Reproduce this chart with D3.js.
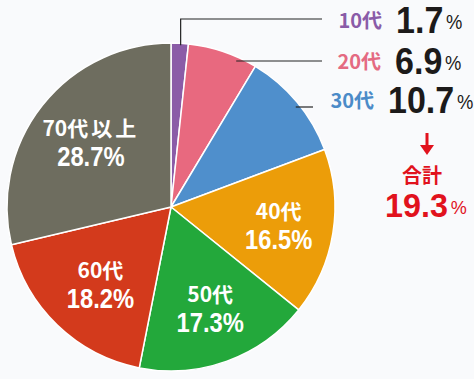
<!DOCTYPE html>
<html>
<head>
<meta charset="utf-8">
<script src="https://cdn.jsdelivr.net/npm/d3@7"></script>
<style>
  html, body { margin: 0; padding: 0; background: #f9fafc; }
  svg { display: block; }
  .num { font-family: "Liberation Sans", Arial, sans-serif; font-weight: bold; }
  .jp { font-family: "Noto Sans CJK JP", sans-serif; font-weight: bold; }
</style>
</head>
<body>
<div id="chart"></div>
<script>
const categories = ["10代", "20代", "30代", "40代", "50代", "60代", "70代以上"];
const values = [1.7, 6.9, 10.7, 16.5, 17.3, 18.2, 28.7];
const colors = ["#8b5ca7", "#e8697f", "#4f8fcc", "#ec9d09", "#23a83b", "#d33a1c", "#6e6d5f"];
const labelColors = ["#8a5ca8", "#e46a82", "#4b8bc8"];
const totalLabel = "合計";
const totalValue = 19.3;

const width = 474, height = 379;
const cx = 171, cy = 207, radius = 164;
const fmt = d3.format(".1f");

const svg = d3.select("#chart")
  .append("svg")
  .attr("width", width)
  .attr("height", height);

const pie = d3.pie().sort(null).value((d) => d);
const arcs = pie(values);

const arc = d3.arc().innerRadius(0).outerRadius(radius);
const labelArc = d3.arc().innerRadius(106).outerRadius(106);

const g = svg.append("g").attr("transform", `translate(${cx},${cy})`);

g.selectAll("path")
  .data(arcs)
  .join("path")
  .attr("d", arc)
  .attr("fill", (d, i) => colors[i])
  .attr("stroke", "#fff")
  .attr("stroke-width", 1.5)
  .attr("stroke-linejoin", "round");

// labels inside the big slices
const inner = g.selectAll("g.inner")
  .data(arcs.slice(3))
  .join("g")
  .attr("class", "inner")
  .attr("transform", (d) => {
    const [x, y] = labelArc.centroid(d);
    return `translate(${x + 3},${y})`;
  })
  .attr("fill", "#fff")
  .attr("text-anchor", "middle");

const innerLabel = inner.append("text")
  .attr("class", "jp")
  .attr("y", -5)
  .attr("font-size", 21);
innerLabel.append("tspan")
  .text((d, i) => categories[i + 3].slice(0, 3));
innerLabel.append("tspan")
  .attr("dx", 3)
  .attr("letter-spacing", 3)
  .text((d, i) => categories[i + 3].slice(3).split("").join(""));

inner.append("text")
  .attr("class", "num")
  .attr("transform", "translate(0,25) scale(0.88,1)")
  .attr("font-size", 27)
  .text((d) => fmt(d.value) + "%");

// leader lines for the small slices
const rows = [
  { y: 19, base: 33, valueX: 396 },
  { y: 61, base: 74, valueX: 395 },
  { y: 107, base: 113, valueX: 388 },
];
const lineEnd = [322, 322, 313];

const lines = svg.append("g")
  .attr("fill", "none")
  .attr("stroke", "#222")
  .attr("stroke-width", 1.2);

arcs.slice(0, 3).forEach((d, i) => {
  const r = rows[i];
  let pts;
  if (i === 0) {
    const a = (d.startAngle + d.endAngle) / 2;
    const sx = cx + (radius - 2) * Math.sin(a);
    const sy = cy - (radius - 2) * Math.cos(a);
    pts = [[sx + 1, sy], [sx + 1, r.y], [lineEnd[i], r.y]];
  } else {
    const rr = radius * 0.975;
    const dy = cy - r.y;
    const sx = cx + Math.sqrt(rr * rr - dy * dy);
    pts = [[sx, r.y], [lineEnd[i], r.y]];
  }
  lines.append("path").attr("d", d3.line()(pts));
});

// outer labels
arcs.slice(0, 3).forEach((d, i) => {
  const r = rows[i];
  svg.append("text")
    .attr("class", "jp")
    .attr("x", r.valueX - 14)
    .attr("y", r.base - 5)
    .attr("text-anchor", "end")
    .attr("font-size", 20)
    .attr("fill", labelColors[i])
    .text(categories[i]);

  const t = svg.append("text")
    .attr("class", "num")
    .attr("transform", `translate(${r.valueX},${r.base}) scale(0.92,1)`)
    .attr("fill", "#1c1a1a");
  t.append("tspan")
    .attr("font-size", 37)
    .text(fmt(d.value));
  t.append("tspan")
    .attr("dx", 3)
    .attr("dy", -4)
    .attr("font-size", 20)
    .style("font-weight", "normal")
    .text("%");
});

// total
const red = "#e1121d";
svg.append("path")
  .attr("d", d3.line()([[427, 133], [427, 147]]))
  .attr("stroke", red)
  .attr("stroke-width", 3);
svg.append("path")
  .attr("d", d3.line()([[420, 145], [434, 145], [427, 155]]) + "Z")
  .attr("fill", red);

svg.append("text")
  .attr("class", "jp")
  .attr("x", 422)
  .attr("y", 183)
  .attr("text-anchor", "middle")
  .attr("font-size", 20)
  .attr("fill", red)
  .text(totalLabel);

const tt = svg.append("text")
  .attr("class", "num")
  .attr("transform", "translate(385,217) scale(0.95,1)")
  .attr("fill", red);
tt.append("tspan").attr("font-size", 34).text(fmt(totalValue));
tt.append("tspan")
  .attr("dx", 3)
  .attr("dy", -3)
  .attr("font-size", 19)
  .style("font-weight", "normal")
  .text("%");
</script>
</body>
</html>
